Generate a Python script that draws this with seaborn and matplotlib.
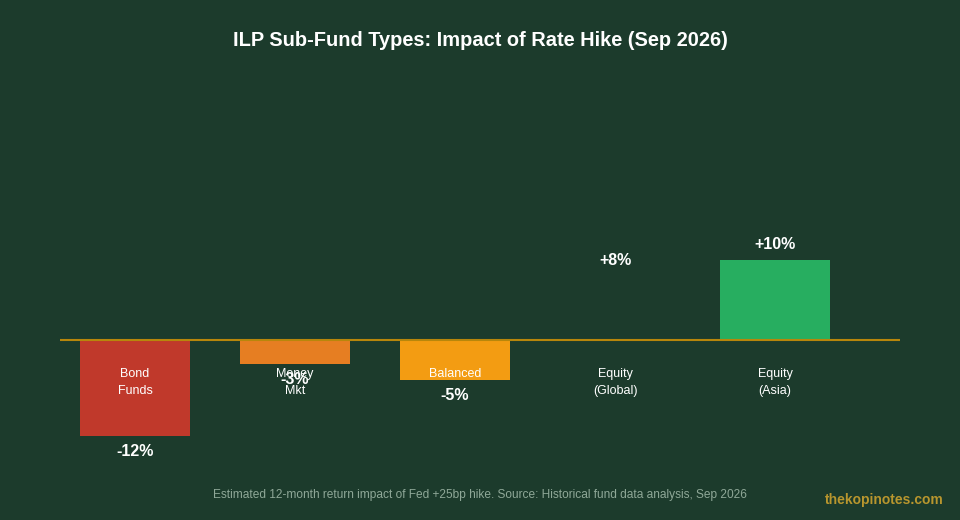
import matplotlib
matplotlib.use("Agg")
import matplotlib.pyplot as plt
import seaborn as sns
import pandas as pd

categories = ["Bond\nFunds", "Money\nMkt", "Balanced", "Equity\n(Global)", "Equity\n(Asia)"]
values = [-12, -3, -5, 8, 10]
labels = ["-12%", "-3%", "-5%", "+8%", "+10%"]
colors = ["#c0392b", "#e67e22", "#f39c12", "#1c3b2c", "#27ae60"]

BG = "#1c3b2c"
sns.set_theme(style="white")
plt.rcParams['font.family'] = ['Liberation Sans', 'DejaVu Sans']

fig = plt.figure(figsize=(9.6, 5.2), dpi=100, facecolor=BG)
ax = fig.add_axes([60/960, 1-470/520, 840/960, 410/520])
ax.set_facecolor(BG)
df = pd.DataFrame({"cat": categories, "val": values})
sns.barplot(data=df, x="cat", y="val", hue="cat", palette=colors, legend=False,
            width=110/160, ax=ax, saturation=1, linewidth=0, edgecolor="none")
ax.set_xlim(-75/160, 4 + 125/160)
ax.set_ylim(-130/8, 280/8)
ax.axhline(0, color="#b8860b", lw=1.5)
for s in ax.spines.values():
    s.set_visible(False)
ax.set_xticks([]); ax.set_yticks([]); ax.set_xlabel(""); ax.set_ylabel("")
for i, (v, l, c) in enumerate(zip(values, labels, categories)):
    if v >= 0:
        ax.text(i, v + 1.0, l, ha="center", va="bottom", color="white", fontsize=11.5, fontweight="bold")
    else:
        ax.text(i, v - 1.0, l, ha="center", va="top", color="white", fontsize=11.5, fontweight="bold")
    ax.text(i, -3.5, c, ha="center", va="top", color="white", fontsize=9, linespacing=1.6)

fig.text(0.5, 1-40/520, "ILP Sub-Fund Types: Impact of Rate Hike (Sep 2026)", ha="center", va="center",
         color="white", fontsize=14.4, fontweight="bold")
fig.text(480/960, 1-495/520, "Estimated 12-month return impact of Fed +25bp hike. Source: Historical fund data analysis, Sep 2026",
         ha="center", va="center", color="#8fa898", fontsize=8.6)
fig.text(944/960, 1-500/520, "thekopinotes.com", ha="right", va="center", color="#b8962e", fontsize=10, fontweight="bold")
fig.savefig("out.png", facecolor=BG)
